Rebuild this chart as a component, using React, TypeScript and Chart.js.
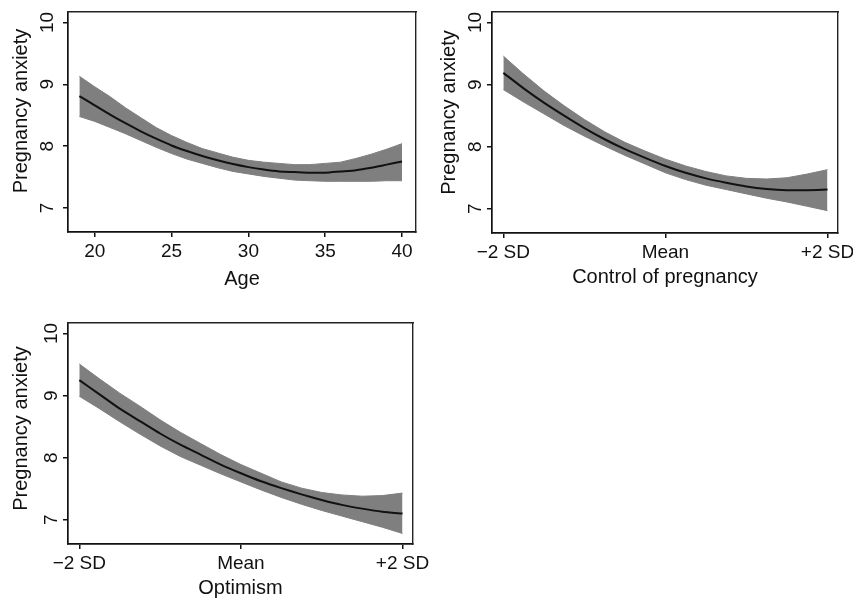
import React, { useEffect, useRef } from "react";
import { Chart, registerables } from "chart.js";

Chart.register(...registerables);

// ---------- data ----------
const Y_TICKS = [7, 8, 9, 10];
const Y_MIN = 6.61;
const Y_MAX = 10.17;

const AGE = [19, 20, 21, 22, 23, 24, 25, 26, 27, 28, 29, 30, 31, 32, 33, 34, 35, 36, 37, 38, 39, 40];
const AGE_FIT = [8.81, 8.66, 8.51, 8.37, 8.24, 8.12, 8.01, 7.92, 7.84, 7.77, 7.71, 7.66, 7.62, 7.59, 7.58, 7.57, 7.57, 7.59, 7.61, 7.65, 7.7, 7.75];
const AGE_HI = [9.13, 8.96, 8.8, 8.62, 8.46, 8.3, 8.17, 8.06, 7.96, 7.89, 7.82, 7.77, 7.74, 7.72, 7.7, 7.7, 7.72, 7.74, 7.8, 7.87, 7.95, 8.04];
const AGE_LO = [8.48, 8.4, 8.3, 8.2, 8.09, 7.98, 7.88, 7.79, 7.72, 7.65, 7.59, 7.55, 7.51, 7.48, 7.45, 7.44, 7.43, 7.43, 7.43, 7.43, 7.44, 7.44];
const AGE_TICKS = [20, 25, 30, 35, 40];
const AGE_LABELS = ["20", "25", "30", "35", "40"];

const SD = [-2, -1.75, -1.5, -1.25, -1, -0.75, -0.5, -0.25, 0, 0.25, 0.5, 0.75, 1, 1.25, 1.5, 1.75, 2];
const SD_TICKS = [-2, 0, 2];
const SD_LABELS = ["\u22122 SD", "Mean", "+2 SD"];

const CTRL_FIT = [9.19, 8.94, 8.71, 8.5, 8.3, 8.12, 7.96, 7.82, 7.69, 7.58, 7.49, 7.42, 7.36, 7.32, 7.3, 7.3, 7.31];
const CTRL_HI = [9.46, 9.17, 8.9, 8.66, 8.44, 8.24, 8.07, 7.93, 7.8, 7.69, 7.6, 7.53, 7.49, 7.48, 7.5, 7.56, 7.63];
const CTRL_LO = [8.92, 8.72, 8.53, 8.34, 8.17, 8.01, 7.86, 7.72, 7.58, 7.47, 7.38, 7.31, 7.24, 7.17, 7.11, 7.04, 6.97];

const OPT_FIT = [9.25, 9.02, 8.79, 8.59, 8.39, 8.21, 8.05, 7.89, 7.75, 7.62, 7.51, 7.41, 7.32, 7.24, 7.18, 7.13, 7.1];
const OPT_HI = [9.51, 9.27, 9.04, 8.83, 8.61, 8.41, 8.23, 8.05, 7.89, 7.75, 7.61, 7.51, 7.44, 7.4, 7.38, 7.39, 7.43];
const OPT_LO = [8.99, 8.79, 8.58, 8.38, 8.19, 8.02, 7.88, 7.74, 7.61, 7.48, 7.36, 7.25, 7.15, 7.06, 6.97, 6.88, 6.78];

const Y_TITLE = "Pregnancy anxiety";

// ---------- style ----------
const FONT = "'Liberation Sans', Arial, Helvetica, sans-serif";
const INK = "#111111";
const BAND = "rgb(127,127,127)";

// y-axis title, drawn relative to the y scale (Stata centres it slightly above the plot middle)
const yTitlePlugin = {
  id: "yTitleShifted",
  afterDraw(chart: any, _args: any, opts: any) {
    const { ctx, chartArea, scales } = chart;
    const s = scales.y;
    ctx.save();
    ctx.font = `20px ${FONT}`;
    ctx.fillStyle = INK;
    ctx.textAlign = "center";
    ctx.textBaseline = "middle";
    ctx.translate(s.left + opts.offsetX, (chartArea.top + chartArea.bottom) / 2 - opts.shift);
    ctx.rotate(-Math.PI / 2);
    ctx.fillText(opts.text, 0, 0);
    ctx.restore();
  },
};

type PanelProps = {
  left: number;
  top: number;
  width: number;
  height: number;
  padTop: number;
  padRight: number;
  yAxisWidth: number;
  xAxisHeight: number;
  xMin: number;
  xMax: number;
  xs: number[];
  fit: number[];
  hi: number[];
  lo: number[];
  xTicks: number[];
  xLabels: string[];
  xTitle: string;
  xTitlePad: number;
  yTickPad: number;
  yTitleX: number;
  yTitleShift: number;
};

function Panel(p: PanelProps) {
  const ref = useRef<HTMLCanvasElement>(null);
  useEffect(() => {
    const pts = (ys: number[]) => p.xs.map((x, i) => ({ x, y: ys[i] }));
    const chart = new Chart(ref.current as HTMLCanvasElement, {
      type: "line",
      data: {
        datasets: [
          {
            data: pts(p.fit),
            borderColor: INK,
            borderWidth: 2,
            pointRadius: 0,
            fill: false,
            tension: 0.2,
          },
          {
            data: pts(p.hi),
            borderColor: BAND,
            backgroundColor: BAND,
            borderWidth: 1,
            pointRadius: 0,
            fill: "+1",
            tension: 0,
          },
          {
            data: pts(p.lo),
            borderColor: BAND,
            borderWidth: 1,
            pointRadius: 0,
            fill: false,
            tension: 0,
          },
        ],
      } as any,
      plugins: [yTitlePlugin as any],
      options: {
        animation: false,
        responsive: false,
        events: [],
        layout: { padding: { top: p.padTop, right: p.padRight, left: 0, bottom: 0 } },
        plugins: {
          legend: { display: false },
          tooltip: { enabled: false },
          yTitleShifted: { text: Y_TITLE, offsetX: p.yTitleX, shift: p.yTitleShift },
        },
        scales: {
          x: {
            type: "linear",
            position: "bottom",
            min: p.xMin,
            max: p.xMax,
            afterBuildTicks: (s: any) => {
              s.ticks = p.xTicks.map((v) => ({ value: v }));
            },
            afterFit: (s: any) => {
              s.height = p.xAxisHeight;
              s.paddingLeft = 0;
              s.paddingRight = 0;
            },
            ticks: {
              autoSkip: false,
              maxRotation: 0,
              minRotation: 0,
              padding: 3,
              color: INK,
              font: { family: FONT, size: 19 },
              callback: (v: any) => {
                const i = p.xTicks.indexOf(Number(v));
                return i >= 0 ? p.xLabels[i] : "";
              },
            },
            grid: {
              display: true,
              drawOnChartArea: false,
              drawTicks: true,
              tickLength: 5,
              color: INK,
              lineWidth: 1.5,
            },
            border: { display: true, color: INK, width: 1.7 },
            title: {
              display: true,
              text: p.xTitle,
              color: INK,
              font: { family: FONT, size: 20 },
              padding: { top: 0, bottom: p.xTitlePad },
            },
          },
          y: {
            type: "linear",
            position: "left",
            min: Y_MIN,
            max: Y_MAX,
            afterBuildTicks: (s: any) => {
              s.ticks = Y_TICKS.map((v) => ({ value: v }));
            },
            afterFit: (s: any) => {
              s.width = p.yAxisWidth;
              s.paddingTop = 0;
              s.paddingBottom = 0;
            },
            ticks: {
              minRotation: 90,
              maxRotation: 90,
              crossAlign: "center",
              padding: p.yTickPad,
              color: INK,
              font: { family: FONT, size: 19 },
            },
            grid: {
              display: true,
              drawOnChartArea: false,
              drawTicks: true,
              tickLength: 5,
              color: INK,
              lineWidth: 1.5,
            },
            border: { display: true, color: INK, width: 1.7 },
            title: { display: false },
          },
          xTop: {
            type: "linear",
            position: "top",
            display: true,
            grid: { display: false },
            ticks: { display: false },
            border: { display: true, color: "#222", width: 1.4 },
            afterFit: (s: any) => {
              s.height = 0;
              s.paddingLeft = 0;
              s.paddingRight = 0;
            },
          },
          yRight: {
            type: "linear",
            position: "right",
            display: true,
            grid: { display: false },
            ticks: { display: false },
            border: { display: true, color: "#222", width: 1.4 },
            afterFit: (s: any) => {
              s.width = 0;
              s.paddingTop = 0;
              s.paddingBottom = 0;
            },
          },
        },
      } as any,
    });
    return () => chart.destroy();
  }, []);
  return (
    <canvas
      ref={ref}
      width={p.width}
      height={p.height}
      style={{ position: "absolute", left: p.left, top: p.top, width: p.width, height: p.height }}
    />
  );
}

export default function App() {
  return (
    <div
      style={{
        position: "fixed",
        left: 0,
        top: 0,
        width: 853,
        height: 600,
        background: "#ffffff",
        overflow: "hidden",
      }}
    >
      <Panel
        left={0}
        top={0}
        width={430}
        height={300}
        padTop={12}
        padRight={14}
        yAxisWidth={68}
        xAxisHeight={68}
        xMin={18.26}
        xMax={40.91}
        xs={AGE}
        fit={AGE_FIT}
        hi={AGE_HI}
        lo={AGE_LO}
        xTicks={AGE_TICKS}
        xLabels={AGE_LABELS}
        xTitle="Age"
        xTitlePad={9}
        yTickPad={5}
        yTitleX={21}
        yTitleShift={11}
      />
      <Panel
        left={424}
        top={0}
        width={429}
        height={300}
        padTop={12}
        padRight={15}
        yAxisWidth={68}
        xAxisHeight={67}
        xMin={-2.14}
        xMax={2.13}
        xs={SD}
        fit={CTRL_FIT}
        hi={CTRL_HI}
        lo={CTRL_LO}
        xTicks={SD_TICKS}
        xLabels={SD_LABELS}
        xTitle="Control of pregnancy"
        xTitlePad={11}
        yTickPad={1}
        yTitleX={25}
        yTitleShift={10}
      />
      <Panel
        left={0}
        top={300}
        width={430}
        height={300}
        padTop={23}
        padRight={17}
        yAxisWidth={68}
        xAxisHeight={56}
        xMin={-2.14}
        xMax={2.13}
        xs={SD}
        fit={OPT_FIT}
        hi={OPT_HI}
        lo={OPT_LO}
        xTicks={SD_TICKS}
        xLabels={SD_LABELS}
        xTitle="Optimism"
        xTitlePad={0}
        yTickPad={1}
        yTitleX={21}
        yTitleShift={5}
      />
    </div>
  );
}
